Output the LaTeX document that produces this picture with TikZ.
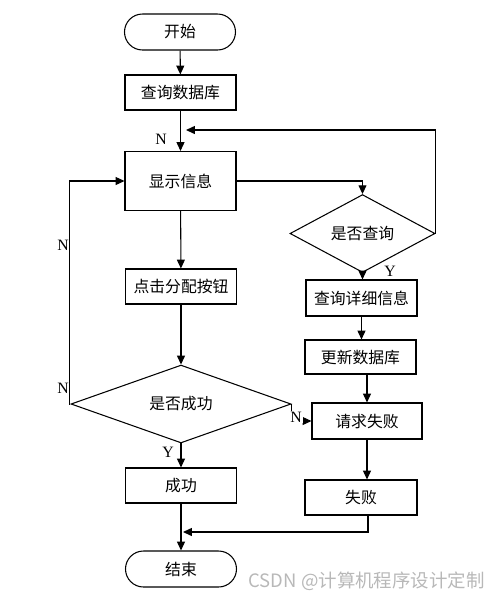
\documentclass[tikz,border=0pt]{standalone}
\usepackage{fontspec}
\setmainfont{Liberation Serif}
\newfontfamily\cjk{Noto Sans CJK SC}
\usepackage{tikz}
\usetikzlibrary{positioning, calc, shapes.geometric, arrows.meta}
\tikzset{
  termbox/.style={rectangle, draw=black, fill=white, line width=0.6pt,
                  minimum width=2.22cm, minimum height=0.72cm,
                  align=center, rounded corners=0.36cm,
                  font=\cjk\fontsize{9}{11}\selectfont},
  procbox/.style={rectangle, draw=black, fill=white, line width=0.6pt,
                  minimum width=2.22cm, minimum height=0.7cm,
                  align=center, font=\cjk\fontsize{9}{11}\selectfont},
  decbox/.style={diamond, draw=black, fill=white, line width=0.6pt,
                 inner sep=0pt, align=center,
                 font=\cjk\fontsize{9}{11}\selectfont},
  yn/.style={font=\fontsize{9}{11}\selectfont, inner sep=0pt},
}

\begin{document}
\begin{tikzpicture}[
    flow/.style={-{Triangle[length=5pt,width=4.5pt]}, line width=0.6pt},
    line/.style={line width=0.6pt},
  ]
    \useasboundingbox (0,0) rectangle (10,-12);

    % Left column
    \node[termbox] (start) at (3.6,-0.64) {开始};
    \node[procbox] (db) at (3.61,-1.85) {查询数据库};
    \node[procbox, minimum height=1.18cm] (show) at (3.61,-3.62) {显示信息};
    \node[procbox] (click) at (3.62,-5.73) {点击分配按钮};
    \node[decbox, minimum width=4.4cm, minimum height=1.16cm] (ok) at (3.62,-8.08) {是否成功};
    \node[procbox] (succ) at (3.62,-9.71) {成功};
    \node[termbox] (end) at (3.62,-11.38) {结束};

    % Right column
    \node[decbox, minimum width=2.9cm, minimum height=1.14cm] (query) at (7.25,-4.67) {是否查询};
    \node[procbox, minimum height=0.72cm] (detail) at (7.23,-5.96) {查询详细信息};
    \node[procbox, minimum height=0.68cm] (update) at (7.21,-7.14) {更新数据库};
    \node[procbox, minimum width=2.2cm, minimum height=0.72cm] (freq) at (7.34,-8.42) {请求失败};
    \node[procbox, minimum width=2.24cm] (fail) at (7.22,-9.95) {失败};

    % Free ends of the loops
    \coordinate (qin) at (3.72,-2.6);
    \coordinate (mrg) at (3.66,-10.64);

    % Connections
    \draw[flow] (start) -- (db);
    \draw[flow] (db) -- (show);
    \draw[flow] (show.east) -| (query.north);
    \draw[flow] (query.east) |- (qin);
    \draw[flow] (query.south) -- (query.south |- detail.north);
    \draw[flow] (detail) -- (detail.south |- update.north);
    \draw[flow] (freq.north |- update.south) -- (freq.north);
    \draw[flow] (freq.south) -- (freq.south |- fail.north);
    \draw[flow] (fail.south -| 7.36,0) |- (mrg);
    \draw[flow] (show) -- (click);
    \draw[flow] (click) -- (ok);
    \draw[flow] (ok.south) -- (succ.north);
    \draw[flow] (succ) -- (end);
    \draw[flow] (ok.west) -- ++(-0.02,0) |- (show.west);
    \draw[flow] (ok.east) |- (freq.west);

    % Labels
    \node[yn] (n1) at (3.22,-2.78) {N};
    \node[yn] (n2) at (1.26,-4.9) {N};
    \node[yn] (n3) at (1.26,-7.76) {N};
    \node[yn, fill=white, inner sep=0.5pt] (n4) at (5.92,-8.34) {N};
    \node[yn] (y1) at (7.8,-5.42) {Y};
    \node[yn] (y2) at (3.36,-9.04) {Y};

    % Watermark
    \node[font=\fontspec{Noto Sans CJK SC}\fontsize{10.5}{12}\selectfont, text=black!28, anchor=east, inner sep=0pt]
         (wm) at (9.7,-11.62) {CSDN @计算机程序设计定制};
  \end{tikzpicture}
\end{document}
